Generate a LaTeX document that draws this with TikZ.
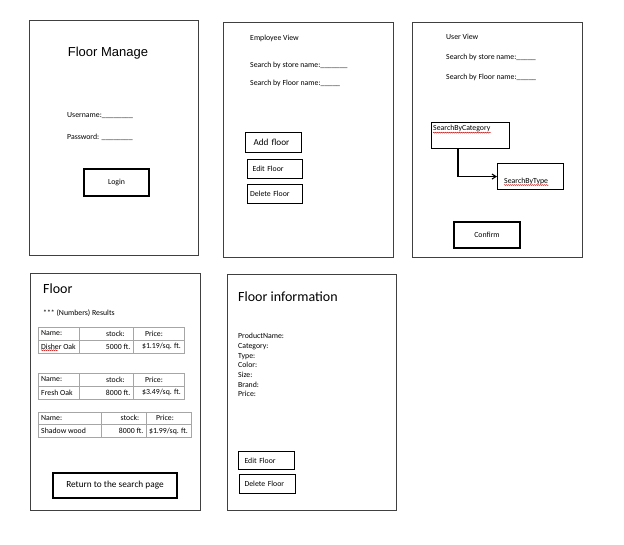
\documentclass[tikz,border=0pt]{standalone}
\usepackage{fontspec}
\setmainfont{Carlito}
\newfontfamily\arialfont{Liberation Sans}
\usetikzlibrary{arrows.meta,calc,decorations.pathmorphing}
\begin{document}
\begin{tikzpicture}[x=1pt,y=-1pt,
  panel/.style={draw=black!75, line width=0.9pt},
  btn/.style={draw=black, line width=1.1pt, inner sep=0, font=\fontsize{7.8}{9.5}\selectfont},
  tline/.style={draw=black!35, line width=0.6pt},
  lbl/.style={font=\fontsize{7.8}{9.7}\selectfont, inner sep=0, anchor=west},
  big/.style={font=\fontsize{14}{16}\selectfont, inner sep=0, anchor=west},
  squig/.style={draw=red!80!black, line width=0.4pt, decorate, decoration={snake, amplitude=0.5pt, segment length=2pt}},
  conn/.style={draw=black, line width=1.1pt, -{Straight Barb[length=4pt,width=5pt]}}
]
\useasboundingbox (0,0) rectangle (624,544);

% ---------- Panel 1: Floor Manage ----------
\draw[panel] (29,20) rectangle (198,255);
\node[inner sep=0, font=\arialfont\fontsize{13}{15}\selectfont] (title1) at (108,53) {Floor Manage};
\node[lbl] (user) at (67,116) {Username:\_\_\_\_\_\_\_\_};
\node[lbl] (pass) at (67,137) {Password: \_\_\_\_\_\_\_\_};
\node[btn, minimum width=65, minimum height=27] (login) at (116.5,182.5) {Login};

% ---------- Panel 2: Employee View ----------
\draw[panel] (223,22) rectangle (393,257);
\node[lbl] (emp) at (250,38) {Employee View};
\node[lbl] (esstore) at (250,65) {Search by store name:\_\_\_\_\_\_\_};
\node[lbl] (esfloor) at (250,83) {Search by Floor name:\_\_\_\_\_};
\node[btn, anchor=north west, minimum height=20, inner xsep=8, text width=40, align=left,
      font=\fontsize{9.2}{11}\selectfont] (add) at (245,132) {Add floor};
\node[btn, anchor=north west, minimum height=19, inner xsep=5, text width=45, align=left] (edit1) at (247,159) {Edit Floor};
\node[btn, anchor=north west, minimum height=19, inner xsep=2.5, text width=50, align=left] (del1) at (247,184) {Delete Floor};

% ---------- Panel 3: User View ----------
\draw[panel] (412,22) rectangle (582,257);
\node[lbl] (uv) at (446,37) {User View};
\node[lbl] (usstore) at (446,57) {Search by store name:\_\_\_\_\_};
\node[lbl] (usfloor) at (446,77) {Search by Floor name:\_\_\_\_\_};
\node[btn, anchor=north west, minimum width=78, minimum height=26] (cat) at (431,122) {};
\node[lbl, anchor=north west] (cattxt) at (433,125) {SearchByCategory};
\draw[squig] ($(cattxt.south west)+(0,0.5)$) -- ($(cattxt.south east)+(0,0.5)$);
\node[btn, anchor=north west, minimum width=66, minimum height=26] (type) at (497,163) {};
\node[lbl] (typetxt) at (504,181) {SearchByType};
\draw[squig] ($(typetxt.south west)+(0,0.5)$) -- ($(typetxt.south east)+(0,0.5)$);
\coordinate (catout) at ($(cat.south west)+(27,0)$);
\draw[conn] (catout) |- (type.west);
\node[btn, minimum width=66, minimum height=26] (confirm) at (487,235) {Confirm};

% ---------- Panel 4: Floor results ----------
\draw[panel] (30,273) rectangle (200,510);
\node[big] (floor) at (43,289) {Floor};
\node[lbl] (results) at (43,313) {*** (Numbers) Results};
% table 1
\draw[tline] (38,327) rectangle (184,353);
\draw[tline] (38,340) -- (184,340);
\draw[tline] (79,327) -- (79,353);
\draw[tline] (133,327) -- (133,353);
\node[lbl] (t1a) at (41,333.5) {Name:};
\node[lbl, anchor=center] (t1b) at (115.5,333.5) {stock:};
\node[lbl, anchor=center] (t1c) at (154,333.5) {Price:};
\node[lbl] (t1d) at (41,346.5) {Disher Oak};
\node[lbl, anchor=east] (t1e) at (130.5,346.5) {5000 ft.};
\node[lbl, anchor=center] (t1f) at (161.5,346.5) {\$1.19/sq. ft.};
\coordinate (dis) at ($(t1d.south west)+(0,0.8)$);
\draw[squig] (dis) -- ++(17,0);
% table 2
\draw[tline] (38,373) rectangle (184,399);
\draw[tline] (38,386) -- (184,386);
\draw[tline] (79,373) -- (79,399);
\draw[tline] (133,373) -- (133,399);
\node[lbl] (t2a) at (41,379.5) {Name:};
\node[lbl, anchor=center] (t2b) at (115.5,379.5) {stock:};
\node[lbl, anchor=center] (t2c) at (154,379.5) {Price:};
\node[lbl] (t2d) at (41,392.5) {Fresh Oak};
\node[lbl, anchor=east] (t2e) at (130.5,392.5) {8000 ft.};
\node[lbl, anchor=center] (t2f) at (161.5,392.5) {\$3.49/sq. ft.};
% table 3
\draw[tline] (38,412) rectangle (191,437);
\draw[tline] (38,424.5) -- (191,424.5);
\draw[tline] (101,412) -- (101,437);
\draw[tline] (146,412) -- (146,437);
\node[lbl] (t3a) at (41,418) {Name:};
\node[lbl, anchor=center] (t3b) at (130,418) {stock:};
\node[lbl, anchor=center] (t3c) at (165,418) {Price:};
\node[lbl] (t3d) at (41,431) {Shadow wood};
\node[lbl, anchor=east] (t3e) at (143.5,431) {8000 ft.};
\node[lbl, anchor=center] (t3f) at (168.5,431) {\$1.99/sq. ft.};
\node[btn, minimum width=124, minimum height=25, font=\fontsize{9.3}{11}\selectfont] (ret) at (115,485.5) {Return to the search page};

% ---------- Panel 5: Floor information ----------
\draw[panel] (227,274) rectangle (396,510);
\node[big] (finfo) at (238,297) {Floor information};
\node[lbl, anchor=north west, align=left] (info) at (238,333) {ProductName:\\Category:\\Type:\\Color:\\Size:\\Brand:\\Price:};
\node[btn, anchor=north west, minimum height=18, inner xsep=6, text width=44, align=left] (edit2) at (238,451) {Edit Floor};
\node[btn, anchor=north west, minimum height=19, inner xsep=5, text width=46, align=left] (del2) at (239,474) {Delete Floor};
\end{tikzpicture}
\end{document}
